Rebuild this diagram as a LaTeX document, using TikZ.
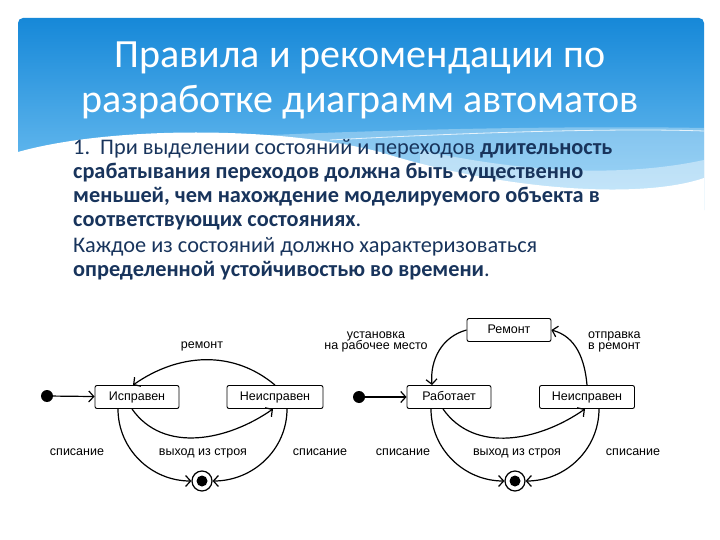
\documentclass[tikz,border=0pt]{standalone}
\usepackage{fontspec}
\setmainfont{Carlito}
\newfontfamily\diagfont{Liberation Sans}
\usepackage{tikz}
\usetikzlibrary{arrows.meta,positioning}

\definecolor{hdtop}{RGB}{22,136,216}
\definecolor{hdbot}{RGB}{125,200,245}
\definecolor{bodyblue}{RGB}{24,52,92}

\tikzset{
  state/.style = {draw, rounded corners=2pt, line width=0.9pt, minimum width=84pt,
                  minimum height=23pt, inner xsep=10pt, text height=9pt, text depth=2.5pt,
                  font=\diagfont\fontsize{12.5}{14}\selectfont},
  init/.style  = {circle, fill, minimum size=12pt, inner sep=0pt},
  final/.style = {circle, draw, fill=white, line width=1.2pt, minimum size=20pt, inner sep=0pt},
  dot/.style   = {circle, fill, minimum size=11pt, inner sep=0pt},
  trans/.style = {line width=1.2pt, -{Straight Barb[length=5pt,width=11pt,line width=1.2pt]}},
  lbl/.style   = {font=\diagfont\fontsize{12.5}{14}\selectfont, align=center, inner sep=0pt,
                  text height=9pt, text depth=2.5pt},
  lbltwo/.style = {font=\diagfont\fontsize{12.5}{14}\selectfont, align=center, inner sep=0pt},
}

\begin{document}
\begin{tikzpicture}[x=1pt, y=-1pt]
  \useasboundingbox (0,0) rectangle (720,540);
  \fill[white] (0,0) rectangle (720,540);

  \shade[top color=hdtop, bottom color=hdbot, rounded corners=5pt]
    (18,18) rectangle (704,215);
  \fill[white, opacity=0.3]
    (250,136) .. controls (420,128) and (600,126) .. (704,128) -- (704,215) -- (250,215) -- cycle;
  \draw[white, line width=0.8pt, opacity=0.8]
    (330,140) .. controls (480,132) and (620,128) .. (704,131);
  \fill[white, opacity=0.4]
    (420,150) .. controls (520,172) and (620,178) .. (704,160) -- (704,215) -- (420,215) -- cycle;
  \fill[white]
    (18,152) .. controls (110,126) and (280,126) .. (380,152)
    .. controls (500,190) and (640,200) .. (704,178) -- (704,216) -- (18,216) -- cycle;
  \draw[white, line width=0.8pt, opacity=0.9]
    (420,168) .. controls (520,190) and (600,196) .. (650,200);

  \node[white, font=\fontsize{40}{45}\selectfont, align=center] (title) at (360,80)
    {Правила и рекомендации по\\разработке диаграмм автоматов};

  \node[bodyblue, font=\fontsize{22.3}{24}\selectfont, align=left, anchor=north west, inner sep=0pt] (body) at (73,139)
    {1.\ \ При выделении состояний и переходов \textbf{длительность}\\
     \textbf{срабатывания переходов должна быть существенно}\\
     \textbf{меньшей, чем нахождение моделируемого объекта в}\\
     \textbf{соответствующих состояниях}.\\[2pt]
     Каждое из состояний должно характеризоваться\\
     \textbf{определенной устойчивостью во времени}.};

  \node[init] (i1) at (47,396) {};
  \node[state] (s1) at (137,397) {Исправен};
  \node[state, minimum width=96pt] (s2) at (275,397) {Неисправен};
  \node[final] (f1) at (202,481) {};
  \node[dot] (f1c) at (f1) {};

  \node[lbl] (l1) at (202,345) {ремонт};
  \node[lbl] (l2) at (77,452) {списание};
  \node[lbl] (l3) at (203,452) {выход из строя};
  \node[lbl] (l4) at (320,452) {списание};

  \draw[trans] (i1) -- (s1);
  \draw[trans] (s2.north) to[out=140, in=35] ([xshift=-4pt]s1.north);
  \draw[trans] ([xshift=-5pt]s1.south) to[out=-55, in=-145] ([xshift=-2pt]s2.south);
  \draw[trans] ([xshift=-19pt]s1.south) to[out=-90, in=180] (f1);
  \draw[trans] ([xshift=12pt]s2.south) to[out=-90, in=0] (f1);

  \node[init] (i2) at (359,397) {};
  \node[state] (w) at (449,397) {Работает};
  \node[state, minimum width=95pt] (n) at (587,397) {Неисправен};
  \node[state] (r) at (509,330) {Ремонт};
  \node[final] (f2) at (515,481) {};
  \node[dot] (f2c) at (f2) {};

  \node[lbltwo] (l5) at (376,342) {установка\\[-3pt]на рабочее место};
  \node[lbltwo, align=left, anchor=west] (l6) at (588,342) {отправка\\[-3pt]в ремонт};
  \node[lbl] (l7) at (403,452) {списание};
  \node[lbl] (l8) at (517,452) {выход из строя};
  \node[lbl] (l9) at (633,452) {списание};

  \draw[trans] (i2) -- (w);
  \draw[trans] (r.west) to[out=195, in=95] ([xshift=-17pt]w.north);
  \draw[trans] (n.north) to[out=95, in=-15] (r.east);
  \draw[trans] ([xshift=-6pt]w.south) to[out=-55, in=-145] ([xshift=-2pt]n.south);
  \draw[trans] ([xshift=-18pt]w.south) to[out=-90, in=180] (f2);
  \draw[trans] ([xshift=12pt]n.south) to[out=-90, in=0] (f2);
\end{tikzpicture}
\end{document}
